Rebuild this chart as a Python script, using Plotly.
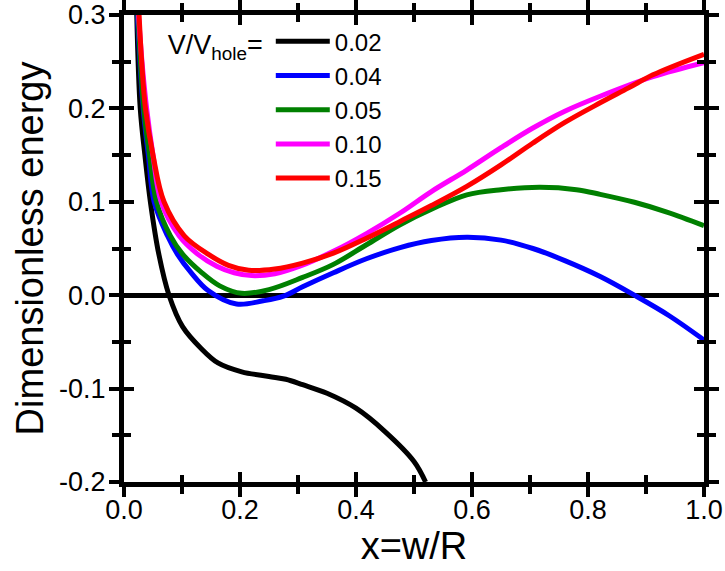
import plotly.graph_objects as go

# ---------------- data ----------------
x_002 = [0.022, 0.028, 0.036, 0.0455, 0.060, 0.0776, 0.101, 0.133, 0.162, 0.203, 0.250, 0.279, 0.308, 0.350, 0.400, 0.450, 0.500, 0.520]
y_002 = [0.300, 0.200, 0.150, 0.100, 0.044, 0.000, -0.0336, -0.057, -0.0725, -0.082, -0.087, -0.090, -0.0958, -0.105, -0.121, -0.146, -0.178, -0.200]

x_004 = [0.023, 0.033, 0.042, 0.052, 0.075, 0.092, 0.115, 0.145, 0.194, 0.240, 0.275, 0.308, 0.361, 0.418, 0.476, 0.530, 0.591, 0.650, 0.705, 0.760, 0.821, 0.880, 0.940, 1.000]
y_004 = [0.300, 0.200, 0.150, 0.100, 0.0636, 0.044, 0.0247, 0.005, -0.0095, -0.006, -0.001, 0.009, 0.024, 0.039, 0.051, 0.0585, 0.062, 0.059, 0.050, 0.037, 0.020, 0.000, -0.022, -0.048]

x_005 = [0.024, 0.034, 0.044, 0.056, 0.080, 0.101, 0.133, 0.165, 0.203, 0.250, 0.308, 0.361, 0.418, 0.476, 0.530, 0.591, 0.650, 0.717, 0.780, 0.821, 0.880, 0.936, 1.000]
y_005 = [0.300, 0.200, 0.150, 0.100, 0.0636, 0.044, 0.0247, 0.010, 0.002, 0.006, 0.019, 0.033, 0.054, 0.0755, 0.092, 0.1075, 0.113, 0.1155, 0.113, 0.108, 0.0995, 0.089, 0.0745]

x_010 = [0.025, 0.031, 0.039, 0.050, 0.064, 0.095, 0.127, 0.160, 0.190, 0.220, 0.260, 0.303, 0.361, 0.418, 0.476, 0.530, 0.591, 0.650, 0.705, 0.760, 0.821, 0.912, 1.000]
y_010 = [0.300, 0.250, 0.200, 0.150, 0.100, 0.0636, 0.044, 0.031, 0.024, 0.021, 0.023, 0.031, 0.047, 0.066, 0.088, 0.111, 0.134, 0.158, 0.179, 0.197, 0.213, 0.234, 0.249]

x_015 = [0.026, 0.0305, 0.037, 0.050, 0.069, 0.104, 0.145, 0.180, 0.215, 0.260, 0.308, 0.361, 0.418, 0.476, 0.530, 0.591, 0.650, 0.705, 0.760, 0.821, 0.870, 0.912, 1.000]
y_015 = [0.300, 0.250, 0.200, 0.150, 0.100, 0.0636, 0.044, 0.032, 0.0267, 0.028, 0.0344, 0.045, 0.061, 0.079, 0.096, 0.1165, 0.1395, 0.163, 0.185, 0.206, 0.222, 0.236, 0.258]

series_names = ["0.02", "0.04", "0.05", "0.10", "0.15"]
series_colors = ["#000000", "#0000FF", "#008000", "#FF00FF", "#FF0000"]
series_x = [x_002, x_004, x_005, x_010, x_015]
series_y = [y_002, y_004, y_005, y_010, y_015]

x_tickvals = [0.0, 0.2, 0.4, 0.6, 0.8, 1.0]
x_ticktext = ["0.0", "0.2", "0.4", "0.6", "0.8", "1.0"]
y_tickvals = [-0.2, -0.1, 0.0, 0.1, 0.2, 0.3]
y_ticktext = ["-0.2", "-0.1", "0.0", "0.1", "0.2", "0.3"]

FONT = "Liberation Sans, Arial, Helvetica, sans-serif"
TICK_FONT = dict(size=27, family=FONT, color="black")
TITLE_FONT = dict(size=38, family=FONT, color="black")

fig = go.Figure()
for name, color, xs, ys in zip(series_names, series_colors, series_x, series_y):
    fig.add_trace(go.Scatter(x=xs, y=ys, mode="lines", name=name,
                             line=dict(color=color, width=5, shape="spline", smoothing=1.0)))
# empty trace to activate the overlay axes (inside ticks)
fig.add_trace(go.Scatter(x=[None], y=[None], xaxis="x2", yaxis="y2", showlegend=False, hoverinfo="skip"))

common = dict(showgrid=False, tickcolor="black", tickwidth=4, automargin=False)

fig.update_layout(
    template="none",
    width=725, height=571,
    margin=dict(l=124, r=21, t=15, b=89, autoexpand=False),
    paper_bgcolor="white", plot_bgcolor="white",
    hovermode=False,
    font=dict(family=FONT, color="black", size=26),
    xaxis=dict(range=[0, 1], tickmode="array", tickvals=x_tickvals, ticktext=x_ticktext,
               ticks="outside", ticklen=10, showline=True, linewidth=5, linecolor="black",
               mirror="all", zeroline=False, ticklabelstandoff=-10,
               minor=dict(ticks="outside", ticklen=7, tickwidth=4, tickcolor="black", dtick=0.1, tick0=0),
               tickfont=TICK_FONT,
               title=dict(text="x=w/R", font=TITLE_FONT, standoff=0),
               **common),
    yaxis=dict(range=[-0.2, 0.3], tickmode="array", tickvals=y_tickvals, ticktext=y_ticktext,
               ticks="outside", ticklen=10, showline=True, linewidth=5, linecolor="black",
               mirror="all", zeroline=True, zerolinecolor="black", zerolinewidth=5,
               ticklabelstandoff=-2,
               minor=dict(ticks="outside", ticklen=7, tickwidth=4, tickcolor="black", dtick=0.05, tick0=0),
               tickfont=TICK_FONT,
               title=dict(text="Dimensionless energy", font=TITLE_FONT, standoff=5),
               **common),
    xaxis2=dict(range=[0, 1], overlaying="x", anchor="y2", side="bottom", tickmode="array",
                tickvals=x_tickvals, ticktext=x_ticktext, showticklabels=False,
                ticks="inside", ticklen=10, mirror="allticks", showline=False, zeroline=False,
                minor=dict(ticks="inside", ticklen=7, tickwidth=4, tickcolor="black", dtick=0.1, tick0=0),
                **common),
    yaxis2=dict(range=[-0.2, 0.3], overlaying="y", anchor="x2", side="left", tickmode="array",
                tickvals=y_tickvals, ticktext=y_ticktext, showticklabels=False,
                ticks="inside", ticklen=10, mirror="allticks", showline=False, zeroline=False,
                minor=dict(ticks="inside", ticklen=7, tickwidth=4, tickcolor="black", dtick=0.05, tick0=0),
                **common),
    legend=dict(x=0.072, y=0.991, xanchor="left", yanchor="top", bgcolor="rgba(0,0,0,0)",
                font=dict(size=24, family=FONT, color="black"),
                title=dict(text="V/V<sub>hole</sub>=", side="left", font=dict(size=27, family=FONT, color="black")),
                tracegroupgap=0, itemwidth=54),
    showlegend=True,
)

# remove the default 8px page margin so the figure sits at the window's top-left corner
fig.write_html("out.html", config={"displayModeBar": False},
               post_script="document.body.style.margin='0px';")
